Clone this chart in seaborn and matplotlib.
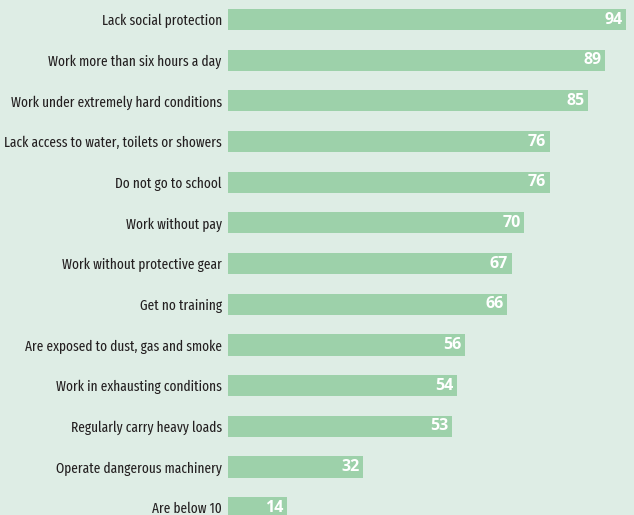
import matplotlib
matplotlib.use("Agg")
import matplotlib.pyplot as plt
import seaborn as sns
import pandas as pd

categories = [
    "Lack social protection",
    "Work more than six hours a day",
    "Work under extremely hard conditions",
    "Lack access to water, toilets or showers",
    "Do not go to school",
    "Work without pay",
    "Work without protective gear",
    "Get no training",
    "Are exposed to dust, gas and smoke",
    "Work in exhausting conditions",
    "Regularly carry heavy loads",
    "Operate dangerous machinery",
    "Are below 10",
]
values = [94, 89, 85, 76, 76, 70, 67, 66, 56, 54, 53, 32, 14]

df = pd.DataFrame({"category": categories, "value": values})

BG = "#deede5"
BAR = "#9dd1aa"
LABEL_FONT = ["Fira Sans Extra Condensed", "DejaVu Sans"]

sns.set_theme(style="white")
plt.rcParams["font.family"] = LABEL_FONT

fig = plt.figure(figsize=(6.34, 5.15), dpi=100)
fig.patch.set_facecolor(BG)
ax = fig.add_axes([228 / 634, 0, 1 - 228 / 634, 1])
ax.set_facecolor(BG)

sns.barplot(data=df, x="value", y="category", orient="h", color=BAR,
            width=0.52, saturation=1, linewidth=0, ax=ax)

ax.set_xlim(0, 95.9)
ax.set_ylim(12.18, -0.48)
for s in ax.spines.values():
    s.set_visible(False)
ax.set_xlabel("")
ax.set_ylabel("")
ax.set_xticks([])
ax.tick_params(axis="y", length=0, pad=4.5)
for t in ax.get_yticklabels():
    t.set_fontsize(12)
    t.set_color("#231f20")

fig.canvas.draw()
r = fig.canvas.get_renderer()
w = max(t.get_window_extent(r).width for t in ax.get_yticklabels())
size = min(12.0, 12.0 * 216.0 / w)
for t in ax.get_yticklabels():
    t.set_fontsize(size)

for i, v in enumerate(values):
    ax.annotate(str(v), xy=(v, i), xytext=(-2.5, 0), textcoords="offset points",
                ha="right", va="center", color="white", fontsize=11.5,
                fontweight="bold", family=["Open Sans", "DejaVu Sans"])

fig.savefig("out.png", dpi=100, facecolor=BG)
